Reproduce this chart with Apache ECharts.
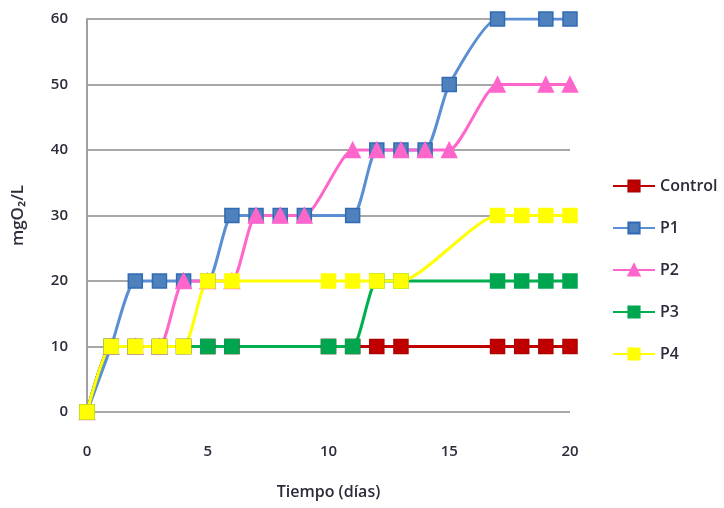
<!DOCTYPE html>
<html>
<head>
<meta charset="utf-8">
<script src="https://cdn.jsdelivr.net/npm/echarts@6/dist/echarts.min.js"></script>
<style>
  html, body { margin: 0; padding: 0; background: #fff; }
  #chart { width: 724px; height: 508px; }
</style>
</head>
<body>
<div id="chart"></div>
<script>
// Sampling days (Control, P3 and P4 share one schedule; P1 and P2 another)
const daysA = [0, 1, 2, 3, 4, 5, 6, 10, 11, 12, 13, 17, 18, 19, 20];
const daysB = [0, 1, 2, 3, 4, 5, 6, 7, 8, 9, 11, 12, 13, 14, 15, 17, 19, 20];

// Oxygen consumption, mgO2/L
const control = [0, 10, 10, 10, 10, 10, 10, 10, 10, 10, 10, 10, 10, 10, 10];
const p1 = [0, 10, 20, 20, 20, 20, 30, 30, 30, 30, 30, 40, 40, 40, 50, 60, 60, 60];
const p2 = [0, 10, 10, 10, 20, 20, 20, 30, 30, 30, 40, 40, 40, 40, 40, 50, 50, 50];
const p3 = [0, 10, 10, 10, 10, 10, 10, 10, 10, 20, 20, 20, 20, 20, 20];
const p4 = [0, 10, 10, 10, 10, 20, 20, 20, 20, 20, 20, 30, 30, 30, 30];

const yTicks = [0, 10, 20, 30, 40, 50, 60];
const xTicks = [0, 5, 10, 15, 20];

const pairs = (xs, ys) => xs.map((x, i) => [x, ys[i]]);

const font = '"Open Sans", Lato, sans-serif';
const textColor = '#2b2b3a';

function line(name, xs, ys, lineColor, symbol, fill, border, size) {
  return {
    name: name,
    type: 'line',
    data: pairs(xs, ys),
    smooth: 0.2,
    symbol: symbol,
    symbolSize: size,
    lineStyle: { color: lineColor, width: 3 },
    itemStyle: { color: fill, borderColor: border, borderWidth: 1.5 },
    emphasis: { disabled: true },
    animation: false
  };
}

const chart = echarts.init(document.getElementById('chart'));
chart.setOption({
  backgroundColor: '#ffffff',
  animation: false,
  grid: { left: 87, right: 154, top: 19, bottom: 96 },
  legend: {
    orient: 'vertical',
    left: 607,
    top: 173,
    itemGap: 26,
    itemWidth: 42,
    itemHeight: 14,
    textStyle: { fontFamily: font, fontSize: 16, lineHeight: 14, color: textColor, fontWeight: 600 },
    data: ['Control', 'P1', 'P2', 'P3', 'P4']
  },
  xAxis: {
    type: 'value',
    min: 0, max: 20, interval: 5,
    name: 'Tiempo (días)',
    nameLocation: 'middle',
    nameGap: 72,
    nameTextStyle: { fontFamily: font, fontSize: 16, fontWeight: 600, color: textColor },
    axisLine: { show: false },
    axisTick: { show: false },
    splitLine: { show: false },
    axisLabel: {
      margin: 32,
      fontFamily: font, fontSize: 15, color: textColor, fontWeight: 600,
      formatter: v => xTicks.includes(v) ? String(v) : ''
    }
  },
  yAxis: {
    type: 'value',
    min: 0, max: 60, interval: 10,
    name: 'mgO₂/L',
    nameLocation: 'middle',
    nameGap: 60,
    nameTextStyle: { fontFamily: font, fontSize: 17, fontWeight: 600, color: textColor },
    axisLine: { show: true, lineStyle: { color: '#a0a0a0', width: 2 } },
    axisTick: { show: false },
    splitLine: { show: true, lineStyle: { color: '#a8a8a8', width: 2 } },
    axisLabel: {
      margin: 19,
      fontFamily: font, fontSize: 15, color: textColor, fontWeight: 600,
      formatter: v => yTicks.includes(v) ? String(v) : ''
    }
  },
  series: [
    line('Control', daysA, control, '#C00000', 'rect', '#C00000', '#B00000', 14),
    line('P1', daysB, p1, '#5B8FD3', 'rect', '#4F81BD', '#2F6CB5', 14),
    line('P2', daysB, p2, '#FF66CC', 'triangle', '#FF66CC', '#FF66CC', 15),
    line('P3', daysA, p3, '#00B050', 'rect', '#00A550', '#00A550', 14),
    line('P4', daysA, p4, '#FFFF00', 'rect', '#FFFF00', '#FFFF00', 14)
  ]
});
</script>
</body>
</html>
